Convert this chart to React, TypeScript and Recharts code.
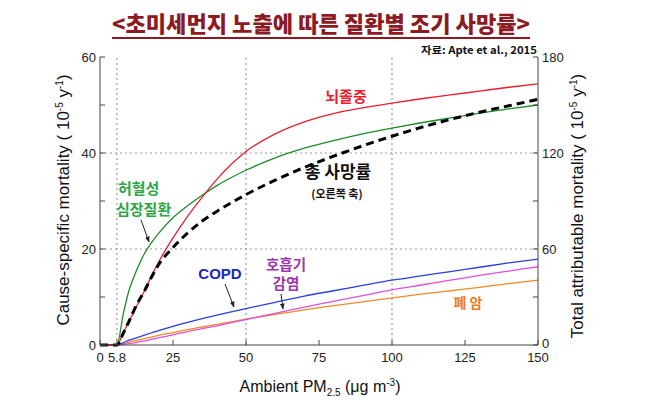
import { Line, LineChart, ReferenceLine, XAxis, YAxis } from "recharts"

// PM2.5 (ug/m3) sample points
const pm = [0, 5.8, 8, 10, 12.5, 15, 17.5, 20, 25, 30, 35, 40, 50, 60, 70, 80, 90, 100, 110, 120, 130, 140, 150]

// cause-specific mortality (left axis, 10^-5 / y)
const strokeVals = [0, 0, 2.6, 5.0, 8.0, 11.0, 14.2, 17.2, 22.3, 26.8, 30.8, 34.5, 40.3, 44.0, 46.5, 48.2, 49.4, 50.4, 51.3, 52.1, 52.9, 53.7, 54.4]
const ihdVals = [0, 0, 6.6, 11.5, 15.5, 18.8, 21.2, 23.2, 26.5, 29.0, 31.2, 33.2, 36.4, 39.0, 41.0, 42.6, 44.0, 45.2, 46.3, 47.3, 48.3, 49.2, 50.0]
const copdVals = [0, 0, 0.5, 1.0, 1.5, 2.0, 2.5, 3.0, 3.9, 4.7, 5.5, 6.2, 7.6, 8.9, 10.2, 11.3, 12.4, 13.5, 14.4, 15.3, 16.2, 17.1, 17.9]
const lriVals = [0, 0, 0.15, 0.3, 0.55, 0.8, 1.15, 1.5, 2.1, 2.8, 3.4, 4.0, 5.3, 6.6, 7.9, 9.1, 10.3, 11.5, 12.5, 13.5, 14.5, 15.4, 16.3]
const lungVals = [0, 0, 0.3, 0.6, 0.95, 1.3, 1.65, 2.0, 2.6, 3.2, 3.75, 4.3, 5.4, 6.4, 7.3, 8.2, 9.0, 9.8, 10.6, 11.3, 12.0, 12.8, 13.5]

// total attributable mortality (right axis)
const totalVals = [0, 0, 7.5, 15, 25, 33, 42, 50, 61, 70, 77.5, 83.5, 94, 103, 111, 118, 124.5, 130.5, 136, 141, 145.5, 149.5, 153.5]

const xTicks = [0, 5.8, 25, 50, 75, 100, 125, 150]
const leftTicks = [0, 10, 20, 30, 40, 50, 60]
const leftLabels = [0, 20, 40, 60]
const rightTicks = [0, 30, 60, 90, 120, 150, 180]
const rightLabels = [0, 60, 120, 180]
const gridX = [5.8, 50, 100]
const gridY = [20, 40]

const rows = pm.map((x, i) => ({
  pm: x,
  stroke: strokeVals[i],
  ihd: ihdVals[i],
  copd: copdVals[i],
  lri: lriVals[i],
  lung: lungVals[i],
  total: totalVals[i],
}))

const SANS = '"Liberation Sans", Arial, sans-serif'
const KR = '"Noto Sans CJK KR", "Noto Sans", sans-serif'
const AXIS = "#444"

function BottomTick(p: any) {
  return (
    <g>
      <line x1={p.x} x2={p.x} y1={p.y} y2={p.y - 5} stroke={AXIS} />
      <text x={p.x} y={p.y + 17} textAnchor="middle" fontSize={13} fontFamily={SANS} fill="#222">
        {p.payload.value}
      </text>
    </g>
  )
}

function TopTick(p: any) {
  return <line x1={p.x} x2={p.x} y1={p.y} y2={p.y + 5} stroke={AXIS} />
}

function LeftTick(p: any) {
  const v = p.payload.value
  return (
    <g>
      <line x1={p.x} x2={p.x + 5} y1={p.y} y2={p.y} stroke={AXIS} />
      {leftLabels.includes(v) && (
        <text x={p.x - 4} y={p.y + 5} textAnchor="end" fontSize={13} fontFamily={SANS} fill="#222">
          {v}
        </text>
      )}
    </g>
  )
}

function RightTick(p: any) {
  const v = p.payload.value
  return (
    <g>
      <line x1={p.x} x2={p.x - 5} y1={p.y} y2={p.y} stroke={AXIS} />
      {rightLabels.includes(v) && (
        <text x={p.x + 4} y={p.y + (v === 0 ? 3 : 5)} textAnchor="start" fontSize={13} fontFamily={SANS} fill="#222">
          {v}
        </text>
      )}
    </g>
  )
}

export default function App() {
  return (
    <div style={{ position: "absolute", left: 0, top: 0, width: 658, height: 411, background: "#fff" }}>
      <LineChart width={658} height={411} data={rows} margin={{ top: 57, right: 80, bottom: 36, left: 60 }}>
        <XAxis
          dataKey="pm"
          type="number"
          domain={[0, 150]}
          ticks={xTicks}
          interval={0}
          tickSize={0}
          tickMargin={0}
          height={30}
          stroke={AXIS}
          tick={<BottomTick />}
        />
        <XAxis
          xAxisId="top"
          orientation="top"
          dataKey="pm"
          type="number"
          domain={[0, 150]}
          ticks={xTicks}
          interval={0}
          tickSize={0}
          tickMargin={0}
          height={0}
          stroke={AXIS}
          tick={<TopTick />}
        />
        <YAxis
          type="number"
          domain={[0, 60]}
          ticks={leftTicks}
          interval={0}
          tickSize={0}
          tickMargin={0}
          width={40}
          stroke={AXIS}
          tick={<LeftTick />}
        />
        <YAxis
          yAxisId="right"
          orientation="right"
          type="number"
          domain={[0, 180]}
          ticks={rightTicks}
          interval={0}
          tickSize={0}
          tickMargin={0}
          width={40}
          stroke={AXIS}
          tick={<RightTick />}
        />
        {gridX.map((v) => (
          <ReferenceLine key={"gx" + v} x={v} stroke="#999" strokeDasharray="2 3" strokeWidth={1.2} />
        ))}
        {gridY.map((v) => (
          <ReferenceLine key={"gy" + v} y={v} stroke="#999" strokeDasharray="2 3" strokeWidth={1.2} />
        ))}
        <Line type="monotone" dataKey="lung" stroke="#f08a24" strokeWidth={1.3} dot={false} isAnimationActive={false} />
        <Line type="monotone" dataKey="lri" stroke="#de4fdc" strokeWidth={1.3} dot={false} isAnimationActive={false} />
        <Line type="monotone" dataKey="copd" stroke="#2a3fe0" strokeWidth={1.3} dot={false} isAnimationActive={false} />
        <Line type="monotone" dataKey="ihd" stroke="#1f8a2c" strokeWidth={1.3} dot={false} isAnimationActive={false} />
        <Line type="monotone" dataKey="stroke" stroke="#e61e2e" strokeWidth={1.3} dot={false} isAnimationActive={false} />
        <Line
          type="monotone"
          dataKey="total"
          yAxisId="right"
          stroke="#000"
          strokeWidth={3}
          strokeDasharray="8 5"
          dot={false}
          isAnimationActive={false}
        />
      </LineChart>

      <svg width={658} height={411} style={{ position: "absolute", left: 0, top: 0, pointerEvents: "none" }}>
        <defs>
          <marker id="ah" viewBox="0 0 10 10" refX="9" refY="5" markerWidth="6" markerHeight="6" orient="auto">
            <path d="M0,1 L10,5 L0,9 z" fill="#222" />
          </marker>
        </defs>
        {/* title */}
        <text
          x={321}
          y={32}
          textAnchor="middle"
          fontSize={22}
          fontWeight={900}
          fontFamily={KR}
          fill="#8b1a22"
          textLength={418}
          lengthAdjust="spacingAndGlyphs"
        >
          {"<초미세먼지 노출에 따른 질환별 조기 사망률>"}
        </text>
        <line x1={112} x2={530} y1={38} y2={38} stroke="#8b1a22" strokeWidth={2} />
        <text
          x={537}
          y={54}
          textAnchor="end"
          fontSize={10.5}
          fontWeight={700}
          fontFamily={KR}
          fill="#111"
          textLength={116}
          lengthAdjust="spacingAndGlyphs"
        >
          자료: Apte et al., 2015
        </text>

        {/* axis titles */}
        <text x={320} y={392} textAnchor="middle" fontSize={16} fontFamily={SANS} fill="#111">
          Ambient PM<tspan fontSize={10} dy={4}>2.5</tspan>
          <tspan dy={-4}> (μg m</tspan>
          <tspan fontSize={10} dy={-6}>-3</tspan>
          <tspan dy={6}>)</tspan>
        </text>
        <text transform="translate(69,200) rotate(-90)" textAnchor="middle" fontSize={17} fontFamily={SANS} fill="#111">
          Cause-specific mortality ( 10<tspan fontSize={10} dy={-6}>-5</tspan>
          <tspan dy={6}> y</tspan>
          <tspan fontSize={10} dy={-6}>-1</tspan>
          <tspan dy={6}>)</tspan>
        </text>
        <text transform="translate(583,206) rotate(-90)" textAnchor="middle" fontSize={17} fontFamily={SANS} fill="#111">
          Total attributable mortality ( 10<tspan fontSize={10} dy={-6}>-5</tspan>
          <tspan dy={6}> y</tspan>
          <tspan fontSize={10} dy={-6}>-1</tspan>
          <tspan dy={6}>)</tspan>
        </text>

        {/* annotations */}
        <g fontFamily={KR} fontWeight={700}>
          <text x={346} y={102} textAnchor="middle" fontSize={15} fill="#e61e2e">뇌졸중</text>
          <text x={338} y={178} textAnchor="middle" fontSize={17} fill="#111">총 사망률</text>
          <text x={337} y={198} textAnchor="middle" fontSize={11} fill="#111">(오른쪽 축)</text>
          <text x={118} y={194} fontSize={15} fill="#2aa845">허혈성</text>
          <text x={116} y={215} fontSize={15} fill="#2aa845">심장질환</text>
          <text x={286} y={270} textAnchor="middle" fontSize={14.5} fill="#9b36ad">호흡기</text>
          <text x={286} y={289} textAnchor="middle" fontSize={14.5} fill="#9b36ad">감염</text>
          <text x={468} y={308} textAnchor="middle" fontSize={14} fill="#f07a1c">폐 암</text>
        </g>
        <text x={220} y={279} textAnchor="middle" fontSize={15} fontWeight={700} fontFamily={SANS} fill="#1a2ab8">
          COPD
        </text>
        <line x1={141} y1={220} x2={149} y2={242} stroke="#222" strokeWidth={1} markerEnd="url(#ah)" />
        <line x1={225} y1={284} x2={234} y2={307} stroke="#222" strokeWidth={1} markerEnd="url(#ah)" />
        <line x1={281} y1={294} x2={283} y2={309} stroke="#222" strokeWidth={1} markerEnd="url(#ah)" />
      </svg>
    </div>
  )
}
